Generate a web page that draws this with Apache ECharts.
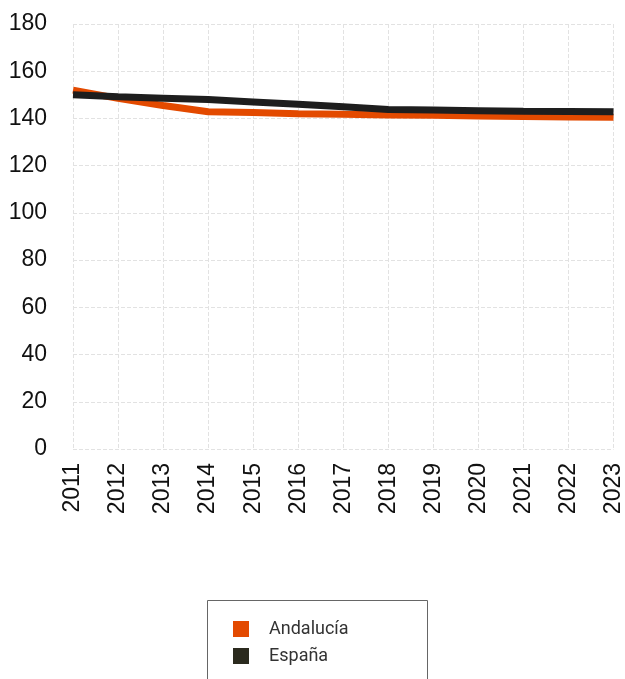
<!DOCTYPE html>
<html><head><meta charset="utf-8">
<script src="https://cdn.jsdelivr.net/npm/echarts@6/dist/echarts.min.js"></script>
<style>html,body{margin:0;padding:0;background:#fff}#c{width:625px;height:679px}</style>
</head><body><div id="c"></div>
<script>
const years = ['2011','2012','2013','2014','2015','2016','2017','2018','2019','2020','2021','2022','2023'];
const andalucia = [152, 148.5, 145.5, 142.8, 142.5, 142, 141.8, 141.5, 141.3, 141, 140.8, 140.6, 140.5];
const espana = [150, 149.2, 148.6, 148, 147, 146, 145, 143.8, 143.6, 143.3, 143, 142.9, 142.8];
const yTicks = {min: 0, max: 180, interval: 20};

const chart = echarts.init(document.getElementById('c'), null, {renderer: 'canvas'});
chart.setOption({
  animation: false,
  grid: {left: 73, right: 10, top: 24, bottom: 230},
  graphic: [{
    type: 'rect', left: 207, top: 600, z: 0,
    shape: {width: 220, height: 100},
    style: {fill: '#fff', stroke: '#666', lineWidth: 1}
  }],
  xAxis: {
    type: 'category', data: years, boundaryGap: false,
    axisLine: {show: false}, axisTick: {show: false},
    axisLabel: {rotate: 90, fontSize: 23, color: '#111', fontFamily: 'Liberation Sans', margin: 14},
    splitLine: {show: true, lineStyle: {color: '#e2e2e2', type: 'dashed', width: 1}}
  },
  yAxis: {
    type: 'value', min: yTicks.min, max: yTicks.max, interval: yTicks.interval,
    axisLine: {show: false}, axisTick: {show: false},
    axisLabel: {fontSize: 23, color: '#111', fontFamily: 'Liberation Sans', margin: 26},
    splitLine: {show: true, lineStyle: {color: '#e2e2e2', type: 'dashed', width: 1}}
  },
  legend: {
    orient: 'vertical', left: 233, top: 620, z: 10,
    padding: 0, height: 60,
    itemWidth: 16, itemHeight: 16, itemGap: 9, icon: 'rect',
    textStyle: {fontSize: 18, color: '#333', fontFamily: 'Roboto', padding: [0, 0, 0, 15]},
    data: [{name: 'Andalucía', itemStyle: {color: '#e34a00'}}, {name: 'España', itemStyle: {color: '#2b2a1e'}}]
  },
  series: [
    {name: 'Andalucía', type: 'line', data: andalucia, symbol: 'none', color: '#e34a00',
     lineStyle: {width: 7, color: '#e34a00'}},
    {name: 'España', type: 'line', data: espana, symbol: 'none', color: '#1e1e1e',
     lineStyle: {width: 7, color: '#1e1e1e'}}
  ]
});
</script></body></html>
